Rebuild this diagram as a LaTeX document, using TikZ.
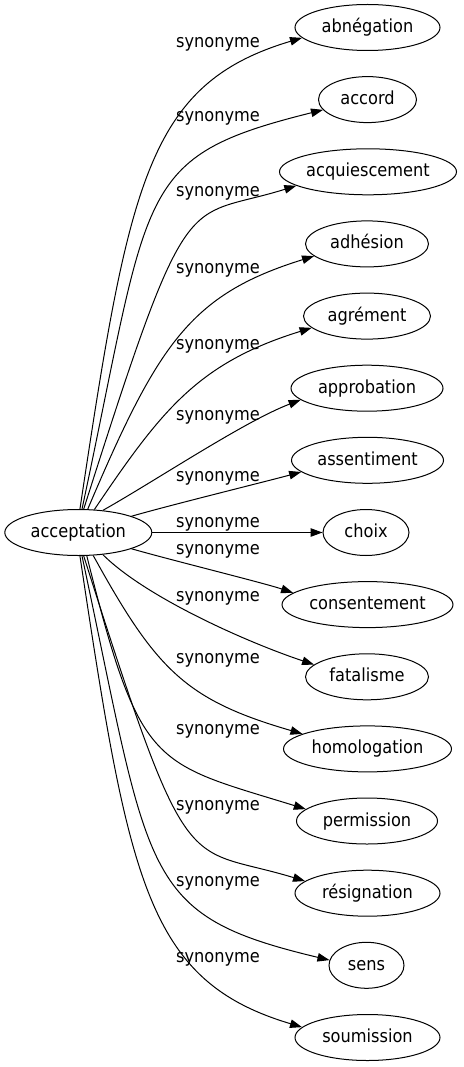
\documentclass[tikz,border=0pt]{standalone}
\usepackage{fontspec}
\setmainfont{DejaVu Sans}[FakeStretch=0.9]
\usetikzlibrary{arrows.meta,shapes.geometric}
\begin{document}
\begin{tikzpicture}[x=1pt,y=-1pt,
  word/.style={draw, ellipse, line width=1pt, minimum height=46pt, inner sep=0pt,
    font=\fontsize{18}{20}\selectfont, text height=13pt, text depth=3pt},
  syn/.style={font=\fontsize{18}{20}\selectfont, anchor=base, inner sep=0pt},
  link/.style={line width=1pt, -{Triangle[length=12pt,width=8.5pt]}}]
\useasboundingbox (0,0) rectangle (463,1067);
\fill[white] (0,0) rectangle (463,1067);
% nodes
\node[word, minimum width=147pt] (acc) at (78.3,532.5) {acceptation};
\node[word, minimum width=145pt] (abn) at (367.5,27.5) {abnégation};
\node[word, minimum width=98pt] (acd) at (367.5,99.6) {accord};
\node[word, minimum width=177pt] (acq) at (368,171.8) {acquiescement};
\node[word, minimum width=123pt] (adh) at (367,243.9) {adhésion};
\node[word, minimum width=127pt] (agr) at (367,316.1) {agrément};
\node[word, minimum width=152pt] (app) at (367,388.2) {approbation};
\node[word, minimum width=152pt] (ass) at (367.5,460.3) {assentiment};
\node[word, minimum width=86pt] (cho) at (366,532.5) {choix};
\node[word, minimum width=171pt] (con) at (367.5,604.6) {consentement};
\node[word, minimum width=123pt] (fat) at (367,676.8) {fatalisme};
\node[word, minimum width=168pt] (hom) at (367.5,748.9) {homologation};
\node[word, minimum width=141pt] (per) at (367,821.0) {permission};
\node[word, minimum width=145pt] (res) at (367.5,893.2) {résignation};
\node[word, minimum width=75pt] (sen) at (366.5,965.3) {sens};
\node[word, minimum width=145pt] (sou) at (367.5,1037.5) {soumission};
% edges
\draw[link] (acc.86) .. controls (129,183) and (147,84) .. (abn.189);
\draw[link] (acc.81) .. controls (151,186) and (133.5,157) .. (acd.193);
\draw[link] (acc.77) .. controls (190,175) and (183,221) .. (acq.191);
\draw[link] (acc.68) .. controls (158,344) and (190,294.6) .. (adh.193);
\draw[link] (acc.55) .. controls (161.6,410) and (198,363) .. (agr.192);
\draw[link] (acc.42) .. controls (155,481) and (245,421) .. (app.190);
\draw[link] (acc.17) .. controls (171.4,504.8) and (264,482) .. (ass.190);
\draw[link] (acc.east) -- (cho.west);
\draw[link] (acc.-17) .. controls (171.4,560.2) and (264,583) .. (con.171);
\draw[link] (acc.-42) .. controls (145.7,597.4) and (248,642.7) .. (fat.167);
\draw[link] (acc.-57) .. controls (156.5,670.3) and (185.8,700) .. (hom.167);
\draw[link] (acc.-70) .. controls (140.2,770) and (153,762) .. (per.169);
\draw[link] (acc.-77) .. controls (190,890) and (183,844) .. (res.169);
\draw[link] (acc.-81) .. controls (151,879) and (140,915) .. (sen.172);
\draw[link] (acc.-86) .. controls (129,882) and (147,981) .. (sou.171);
% labels
\node[syn] (l1) at (218,47.3) {synonyme};
\node[syn] (l2) at (218,121.3) {synonyme};
\node[syn] (l3) at (218,197) {synonyme};
\node[syn] (l4) at (218,273) {synonyme};
\node[syn] (l5) at (218,349) {synonyme};
\node[syn] (l6) at (218,420) {synonyme};
\node[syn] (l7) at (218,481) {synonyme};
\node[syn] (l8) at (218,527) {synonyme};
\node[syn] (l9) at (218,554) {synonyme};
\node[syn] (l10) at (218,601) {synonyme};
\node[syn] (l11) at (218,663) {synonyme};
\node[syn] (l12) at (218,734) {synonyme};
\node[syn] (l13) at (218,810) {synonyme};
\node[syn] (l14) at (218,886) {synonyme};
\node[syn] (l15) at (218,962) {synonyme};
\end{tikzpicture}
\end{document}
